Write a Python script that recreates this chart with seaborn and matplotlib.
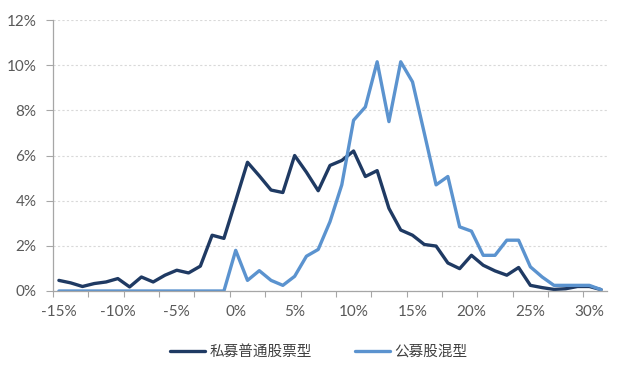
import numpy as np
import pandas as pd
import matplotlib
matplotlib.use("Agg")
import matplotlib.pyplot as plt
import seaborn as sns
from matplotlib.ticker import FixedLocator

# ---- data (returns in %, frequency in %) ----
returns = list(range(-15, 32))
private_equity = [0.47, 0.36, 0.20, 0.33, 0.40, 0.55, 0.18, 0.62, 0.40, 0.70,
                  0.92, 0.80, 1.10, 2.47, 2.33, 4.00, 5.70, 5.10, 4.47, 4.36,
                  6.00, 5.26, 4.44, 5.56, 5.78, 6.20, 5.07, 5.33, 3.66, 2.70,
                  2.47, 2.06, 1.99, 1.24, 0.99, 1.58, 1.14, 0.89, 0.70, 1.04,
                  0.25, 0.15, 0.07, 0.10, 0.20, 0.20, 0.06]
public_mixed = [0.0, 0.0, 0.0, 0.0, 0.0, 0.0, 0.0, 0.0, 0.0, 0.0,
                0.0, 0.0, 0.0, 0.0, 0.0, 1.80, 0.47, 0.90, 0.47, 0.25,
                0.65, 1.54, 1.84, 3.07, 4.70, 7.56, 8.15, 10.15, 7.50, 10.15,
                9.26, 6.99, 4.70, 5.07, 2.84, 2.65, 1.58, 1.58, 2.25, 2.25,
                1.07, 0.62, 0.25, 0.25, 0.25, 0.25, 0.06]
series_names = ["私募普通股票型", "公募股混型"]
x_labels = ["-15%", "-10%", "-5%", "0%", "5%", "10%", "15%", "20%", "25%", "30%"]
y_labels = ["0%", "2%", "4%", "6%", "8%", "10%", "12%"]

df = pd.DataFrame({
    "ret": returns * 2,
    "freq": private_equity + public_mixed,
    "series": [series_names[0]] * len(returns) + [series_names[1]] * len(returns),
})

sns.set_theme(style="white")
plt.rcParams["font.family"] = ["Noto Sans CJK SC", "DejaVu Sans"]

fig = plt.figure(figsize=(6.35, 3.77), dpi=100)
ax = fig.add_axes([53 / 635, 1 - 291 / 377, (607 - 53) / 635, (291 - 20) / 377])

palette = {series_names[0]: "#1F3A63", series_names[1]: "#5B93CF"}
sns.lineplot(data=df, x="ret", y="freq", hue="series", palette=palette,
             linewidth=2.4, ax=ax, legend=True)

ax.set_xlim(-15.5, 31.5)
ax.set_ylim(0, 12)
ax.set_xlabel("")
ax.set_ylabel("")

# y axis
ax.set_yticks([0, 2, 4, 6, 8, 10, 12])
ax.set_yticklabels(y_labels)
ax.yaxis.grid(True, color="#D9D9D9", linestyle=(0, (2, 2)), linewidth=0.8)
ax.set_axisbelow(True)

# x axis: labels every 5, tick marks every 3 categories at boundaries
ax.set_xticks([-15, -10, -5, 0, 5, 10, 15, 20, 25, 30])
ax.set_xticklabels(x_labels)
ax.xaxis.set_minor_locator(FixedLocator(np.arange(-15.5, 30, 3)))
ax.tick_params(axis="x", which="major", length=0, pad=10, labelsize=11, colors="#595959")
ax.tick_params(axis="x", which="minor", length=4, width=0.8, color="#A6A6A6", bottom=True)
ax.tick_params(axis="y", which="major", length=5, width=0.8, color="#A6A6A6", left=True,
               labelsize=11, labelcolor="#595959", pad=7)
for lab in ax.get_xticklabels() + ax.get_yticklabels():
    lab.set_fontfamily(["Lato", "DejaVu Sans"])

for s in ["top", "right"]:
    ax.spines[s].set_visible(False)
for s in ["left", "bottom"]:
    ax.spines[s].set_color("#A6A6A6")
    ax.spines[s].set_linewidth(0.9)

leg = ax.legend(loc="center", bbox_to_anchor=(0.502, 25 / 377), bbox_transform=fig.transFigure,
                ncol=2, frameon=False, fontsize=10.5, handlelength=2.4, handletextpad=0.3,
                columnspacing=3.0)
for t in leg.get_texts():
    t.set_color("#404040")

fig.savefig("out.png", dpi=100)
